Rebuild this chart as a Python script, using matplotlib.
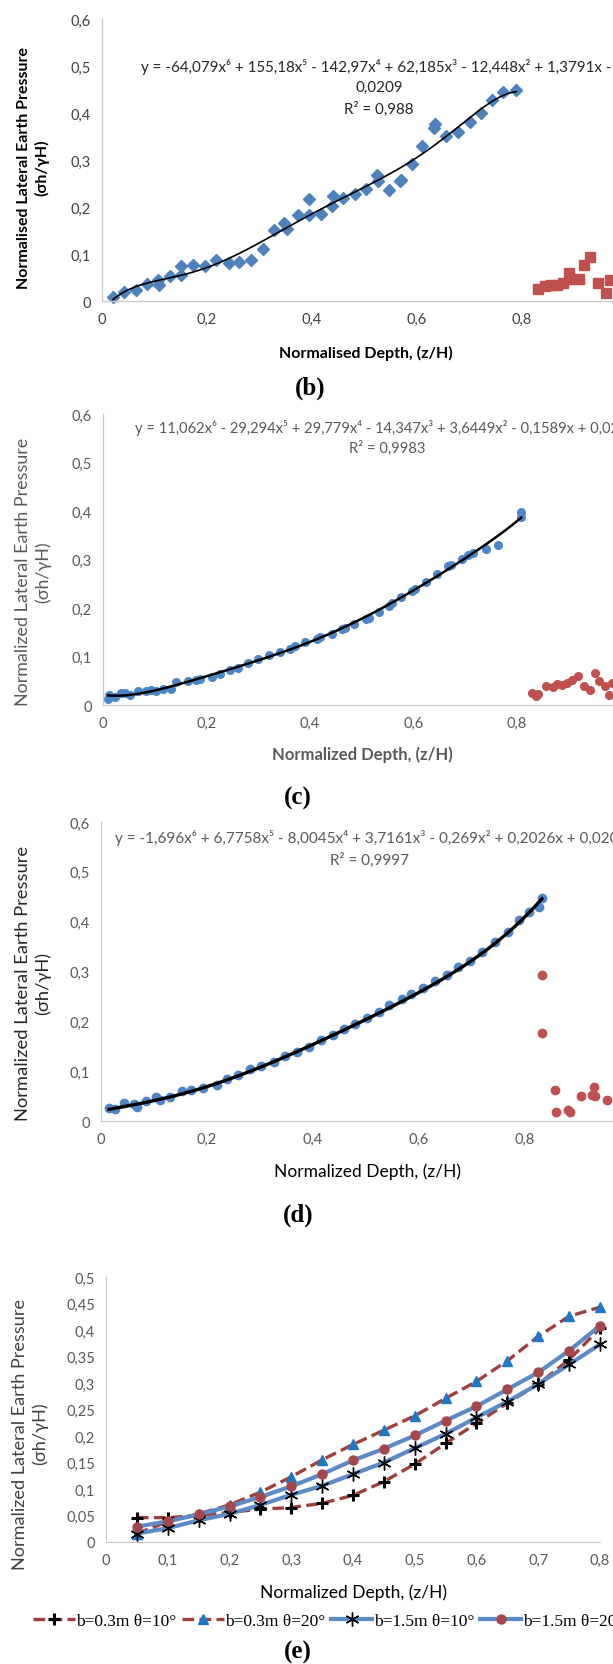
import numpy as np
import matplotlib
matplotlib.use('Agg')
import matplotlib.pyplot as plt

plt.rcParams['font.family'] = ['Lato', 'DejaVu Sans']

#-----------Panel (b) data-------------

b_blue_x = [0.021, 0.042, 0.064, 0.086, 0.107, 0.109, 0.129, 0.151, 0.151, 0.174,
            0.196, 0.218, 0.241, 0.261, 0.284, 0.306, 0.327, 0.347, 0.353, 0.373,
            0.394, 0.394, 0.418, 0.438, 0.440, 0.459, 0.482, 0.503, 0.524, 0.526,
            0.547, 0.567, 0.569, 0.590, 0.610, 0.632, 0.634, 0.656, 0.678, 0.701,
            0.722, 0.743, 0.764, 0.789]
b_blue_y = [0.008, 0.020, 0.023, 0.037, 0.044, 0.033, 0.054, 0.074, 0.056, 0.076,
            0.074, 0.088, 0.080, 0.083, 0.088, 0.111, 0.151, 0.165, 0.154, 0.183,
            0.216, 0.184, 0.185, 0.203, 0.223, 0.219, 0.228, 0.239, 0.269, 0.256,
            0.236, 0.255, 0.258, 0.292, 0.329, 0.368, 0.377, 0.352, 0.360, 0.380,
            0.400, 0.427, 0.444, 0.448]
b_red_x = [0.830, 0.843, 0.856, 0.867, 0.878, 0.890, 0.895, 0.908, 0.919, 0.930,
           0.945, 0.960, 0.968]
b_red_y = [0.025, 0.032, 0.035, 0.033, 0.039, 0.060, 0.047, 0.046, 0.076, 0.094,
           0.039, 0.018, 0.045]
b_coef = [-64.079, 155.18, -142.97, 62.185, -12.448, 1.3791, -0.0209]

#-----------Panel (c) data-------------

c_blue_x = [0.010, 0.012, 0.023, 0.034, 0.042, 0.052, 0.067, 0.083, 0.093, 0.102,
            0.116, 0.131, 0.142, 0.164, 0.180, 0.188, 0.211, 0.227, 0.245, 0.260,
            0.280, 0.299, 0.320, 0.341, 0.362, 0.371, 0.391, 0.414, 0.419, 0.442,
            0.461, 0.468, 0.485, 0.508, 0.514, 0.533, 0.552, 0.558, 0.576, 0.597,
            0.603, 0.624, 0.645, 0.667, 0.672, 0.694, 0.705, 0.714, 0.739, 0.764,
            0.808, 0.808]
c_blue_y = [0.012, 0.020, 0.017, 0.025, 0.024, 0.020, 0.028, 0.029, 0.031, 0.028,
            0.032, 0.034, 0.048, 0.050, 0.052, 0.053, 0.058, 0.063, 0.072, 0.077,
            0.086, 0.094, 0.103, 0.109, 0.116, 0.122, 0.129, 0.137, 0.141, 0.147,
            0.156, 0.158, 0.167, 0.177, 0.180, 0.191, 0.204, 0.210, 0.222, 0.235,
            0.239, 0.253, 0.270, 0.286, 0.288, 0.302, 0.309, 0.313, 0.321, 0.330,
            0.397, 0.387]
c_red_x = [0.828, 0.836, 0.841, 0.856, 0.869, 0.877, 0.886, 0.896, 0.906, 0.917,
           0.929, 0.941, 0.950, 0.958, 0.970, 0.978, 0.983]
c_red_y = [0.025, 0.019, 0.023, 0.039, 0.038, 0.043, 0.041, 0.046, 0.052, 0.060,
           0.039, 0.030, 0.067, 0.050, 0.039, 0.020, 0.046]
c_coef = [11.062, -29.294, 29.779, -14.347, 3.6449, -0.1589, 0.0210]

#-----------Panel (d) data-------------

d_blue_x = [0.015, 0.026, 0.043, 0.063, 0.068, 0.085, 0.104, 0.111, 0.131, 0.152,
            0.170, 0.193, 0.219, 0.237, 0.259, 0.281, 0.302, 0.326, 0.348, 0.370,
            0.393, 0.415, 0.437, 0.458, 0.480, 0.502, 0.524, 0.544, 0.567, 0.585,
            0.607, 0.630, 0.652, 0.674, 0.696, 0.719, 0.744, 0.767, 0.789, 0.807,
            0.826, 0.832]
d_blue_y = [0.026, 0.024, 0.036, 0.034, 0.028, 0.041, 0.048, 0.043, 0.048, 0.061,
            0.063, 0.067, 0.073, 0.085, 0.093, 0.105, 0.111, 0.119, 0.130, 0.139,
            0.148, 0.162, 0.172, 0.184, 0.195, 0.207, 0.218, 0.232, 0.244, 0.255,
            0.267, 0.280, 0.293, 0.309, 0.322, 0.339, 0.359, 0.379, 0.403, 0.419,
            0.429, 0.447]
d_red_x = [0.832, 0.833, 0.856, 0.859, 0.881, 0.885, 0.906, 0.926, 0.930, 0.933, 0.954]
d_red_y = [0.292, 0.176, 0.063, 0.019, 0.023, 0.019, 0.050, 0.053, 0.069, 0.050, 0.043]
d_coef = [-1.696, 6.7758, -8.0045, 3.7161, -0.269, 0.2026, 0.0203]

#-----------Panel (e) data-------------

e_x = [0.05, 0.10, 0.15, 0.20, 0.25, 0.30, 0.35, 0.40, 0.45, 0.50, 0.55, 0.60,
       0.65, 0.70, 0.75, 0.80]
e_03_10 = [0.046, 0.046, 0.050, 0.056, 0.062, 0.065, 0.073, 0.088, 0.114, 0.147,
           0.186, 0.224, 0.262, 0.298, 0.344, 0.403]
e_03_20 = [0.016, 0.038, 0.053, 0.070, 0.094, 0.123, 0.155, 0.184, 0.211, 0.238,
           0.271, 0.303, 0.342, 0.388, 0.426, 0.443]
e_15_10 = [0.016, 0.026, 0.041, 0.053, 0.070, 0.089, 0.106, 0.128, 0.150, 0.177,
           0.204, 0.235, 0.265, 0.298, 0.335, 0.373]
e_15_20 = [0.029, 0.039, 0.052, 0.067, 0.085, 0.105, 0.128, 0.154, 0.176, 0.201,
           0.229, 0.256, 0.288, 0.320, 0.361, 0.408]
e_labels = ['b=0.3m θ=10°', 'b=0.3m θ=20°', 'b=1.5m θ=10°', 'b=1.5m θ=20°']

#-----------Ticks-------------

ticks_x = [0, 0.2, 0.4, 0.6, 0.8]
ticks_x_lab = ['0', '0,2', '0,4', '0,6', '0,8']
ticks_y = [0, 0.1, 0.2, 0.3, 0.4, 0.5, 0.6]
ticks_y_lab = ['0', '0,1', '0,2', '0,3', '0,4', '0,5', '0,6']
ticks_ex = [0, 0.1, 0.2, 0.3, 0.4, 0.5, 0.6, 0.7, 0.8]
ticks_ex_lab = ['0', '0,1', '0,2', '0,3', '0,4', '0,5', '0,6', '0,7', '0,8']
ticks_ey = [0, 0.05, 0.1, 0.15, 0.2, 0.25, 0.3, 0.35, 0.4, 0.45, 0.5]
ticks_ey_lab = ['0', '0,05', '0,1', '0,15', '0,2', '0,25', '0,3', '0,35', '0,4', '0,45', '0,5']

#-----------Figure-------------

W, H = 613, 1665
fig = plt.figure(figsize=(W / 100, H / 100), dpi=100)

BLUE = '#4F81BD'
RED = '#C0504D'
GREY = '#595959'


def make_axes(left, top, bottom, px_per_unit, ymax):
    # pixel box -> figure fraction, the axes run to the right edge of the image
    right = W
    ax = fig.add_axes([left / W, 1 - bottom / H, (right - left) / W, (bottom - top) / H])
    ax.set_xlim(0, (right - left) / px_per_unit)
    ax.set_ylim(0, ymax)
    for s in ['top', 'right']:
        ax.spines[s].set_visible(False)
    for s in ['left', 'bottom']:
        ax.spines[s].set_color('#c8c8c8')
        ax.spines[s].set_linewidth(0.9)
    ax.tick_params(length=0, labelsize=10.5, labelcolor=GREY, pad=8)
    ax.patch.set_alpha(0)
    return ax


def ftext(x, y, s, ha='center', **kw):
    return fig.text(x / W, 1 - y / H, s, ha=ha, va='center', **kw)


def ylab(x, y, s, **kw):
    return ftext(x, y, s, rotation=90, multialignment='center', linespacing=1.3, **kw)


def trend(ax, coef, xs, lw):
    xx = np.linspace(min(xs), max(xs), 200)
    ax.plot(xx, np.polyval(coef, xx), color='black', lw=lw, zorder=3)


#-----------Panel (b)-------------

ax = make_axes(102, 20, 302, 525.0, 0.6)
ax.plot(b_blue_x, b_blue_y, 'D', color=BLUE, ms=6, mec=BLUE, clip_on=False)
ax.plot(b_red_x, b_red_y, 's', color=RED, ms=6.5, mec=RED, clip_on=False)
trend(ax, b_coef, b_blue_x, 1.2)
ax.set_xticks(ticks_x, ticks_x_lab)
ax.set_yticks(ticks_y, ticks_y_lab)
ax.tick_params(labelcolor='#404040')
ftext(141, 67, 'y = -64,079x⁶ + 155,18x⁵ - 142,97x⁴ + 62,185x³ - 12,448x² + 1,3791x -',
      ha='left', fontsize=10.9, color='#262626')
ftext(379, 88, '0,0209', fontsize=10.9, color='#262626')
ftext(379, 109, 'R² = 0,988', fontsize=10.9, color='#262626')
ylab(33, 168, 'Normalised Lateral Earth Pressure\n(σh/γH)', fontsize=11.5,
     fontweight='bold', color='black')
ftext(366, 353, 'Normalised Depth, (z/H)', fontsize=11.5, fontweight='bold', color='black')
ftext(310, 388, '(b)', fontsize=18, fontweight='bold', family='Liberation Serif')

#-----------Panel (c)-------------

ax = make_axes(103, 415, 706, 517.6, 0.6)
ax.plot(c_blue_x, c_blue_y, 'o', color='#4A86C8', ms=5.5, clip_on=False)
ax.plot(c_red_x, c_red_y, 'o', color=RED, ms=5.5, clip_on=False)
trend(ax, c_coef, c_blue_x, 1.8)
ax.set_xticks(ticks_x, ticks_x_lab)
ax.set_yticks(ticks_y, ticks_y_lab)
ftext(135, 428, 'y = 11,062x⁶ - 29,294x⁵ + 29,779x⁴ - 14,347x³ + 3,6449x² - 0,1589x + 0,0210',
      ha='left', fontsize=10.6, color=GREY)
ftext(387, 448, 'R² = 0,9983', fontsize=10.6, color=GREY)
ylab(33, 572, 'Normalized Lateral Earth Pressure\n(σh/γH)', fontsize=12.9, color=GREY)
ftext(362, 755, 'Normalized Depth, (z/H)', fontsize=12, fontweight='bold', color=GREY)
ftext(298, 798, '(c)', fontsize=18, fontweight='bold', family='Liberation Serif')

#-----------Panel (d)-------------

ax = make_axes(101, 823, 1122, 530.0, 0.6)
ax.plot(d_blue_x, d_blue_y, 'o', color='#4F86C6', ms=6, clip_on=False)
ax.plot(d_red_x, d_red_y, 'o', color=RED, ms=6, clip_on=False)
trend(ax, d_coef, d_blue_x, 2.4)
ax.set_xticks(ticks_x, ticks_x_lab)
ax.set_yticks(ticks_y, ticks_y_lab)
ftext(115, 838, 'y = -1,696x⁶ + 6,7758x⁵ - 8,0045x⁴ + 3,7161x³ - 0,269x² + 0,2026x + 0,0203',
      ha='left', fontsize=11.0, color=GREY)
ftext(369, 860, 'R² = 0,9997', fontsize=11.0, color=GREY)
ylab(33, 983, 'Normalized Lateral Earth Pressure\n(σh/γH)', fontsize=13.2, color='#262626')
ftext(368, 1172, 'Normalized Depth, (z/H)', fontsize=12.5, color='black')
ftext(298, 1215, '(d)', fontsize=18, fontweight='bold', family='Liberation Serif')

#-----------Panel (e)-------------

ax = fig.add_axes([106 / W, 1 - 1543 / H, (600 - 106) / W, (1543 - 1278) / H])
ax.set_xlim(0, 0.8)
ax.set_ylim(0, 0.5)
for s in ['top', 'right']:
    ax.spines[s].set_visible(False)
for s in ['left', 'bottom']:
    ax.spines[s].set_color('#c8c8c8')
ax.tick_params(length=0, labelsize=10.5, labelcolor=GREY, pad=8)
ax.patch.set_alpha(0)

dash = (3.5, 1.6)
ax.plot(e_x, e_03_10, '--', dashes=dash, color='#A0403E', lw=2.4, marker='+', ms=9,
        mew=2.2, mec='black', label=e_labels[0], clip_on=False)
ax.plot(e_x, e_03_20, '--', dashes=dash, color='#A0403E', lw=2.4, marker='^', ms=7,
        mfc='#1F77C8', mec='#1F77C8', label=e_labels[1], clip_on=False)
ax.plot(e_x, e_15_10, '-', color='#5B8AC6', lw=3, marker=(6, 2, 0), ms=10,
        mew=1.0, mec='black', label=e_labels[2], clip_on=False)
ax.plot(e_x, e_15_20, '-', color='#5B8AC6', lw=3, marker='o', ms=6.5,
        mfc='#A5474A', mec='#A5474A', label=e_labels[3], clip_on=False)
ax.set_xticks(ticks_ex, ticks_ex_lab)
ax.set_yticks(ticks_ey, ticks_ey_lab)
ylab(30, 1434, 'Normalized Lateral Earth Pressure\n(σh/γH)', fontsize=13.1, color='#404040')
ftext(354, 1593, 'Normalized Depth, (z/H)', fontsize=12.5, color='black')
fig.legend(loc='center left', bbox_to_anchor=(33 / W, 1 - 1622 / H), ncol=4,
           frameon=False, prop={'family': 'Liberation Serif', 'size': 12.5},
           handlelength=2.4, handletextpad=0.1, columnspacing=0.3,
           borderaxespad=0, borderpad=0)
ftext(298, 1652, '(e)', fontsize=18, fontweight='bold', family='Liberation Serif')

fig.savefig('out.png', dpi=100)
